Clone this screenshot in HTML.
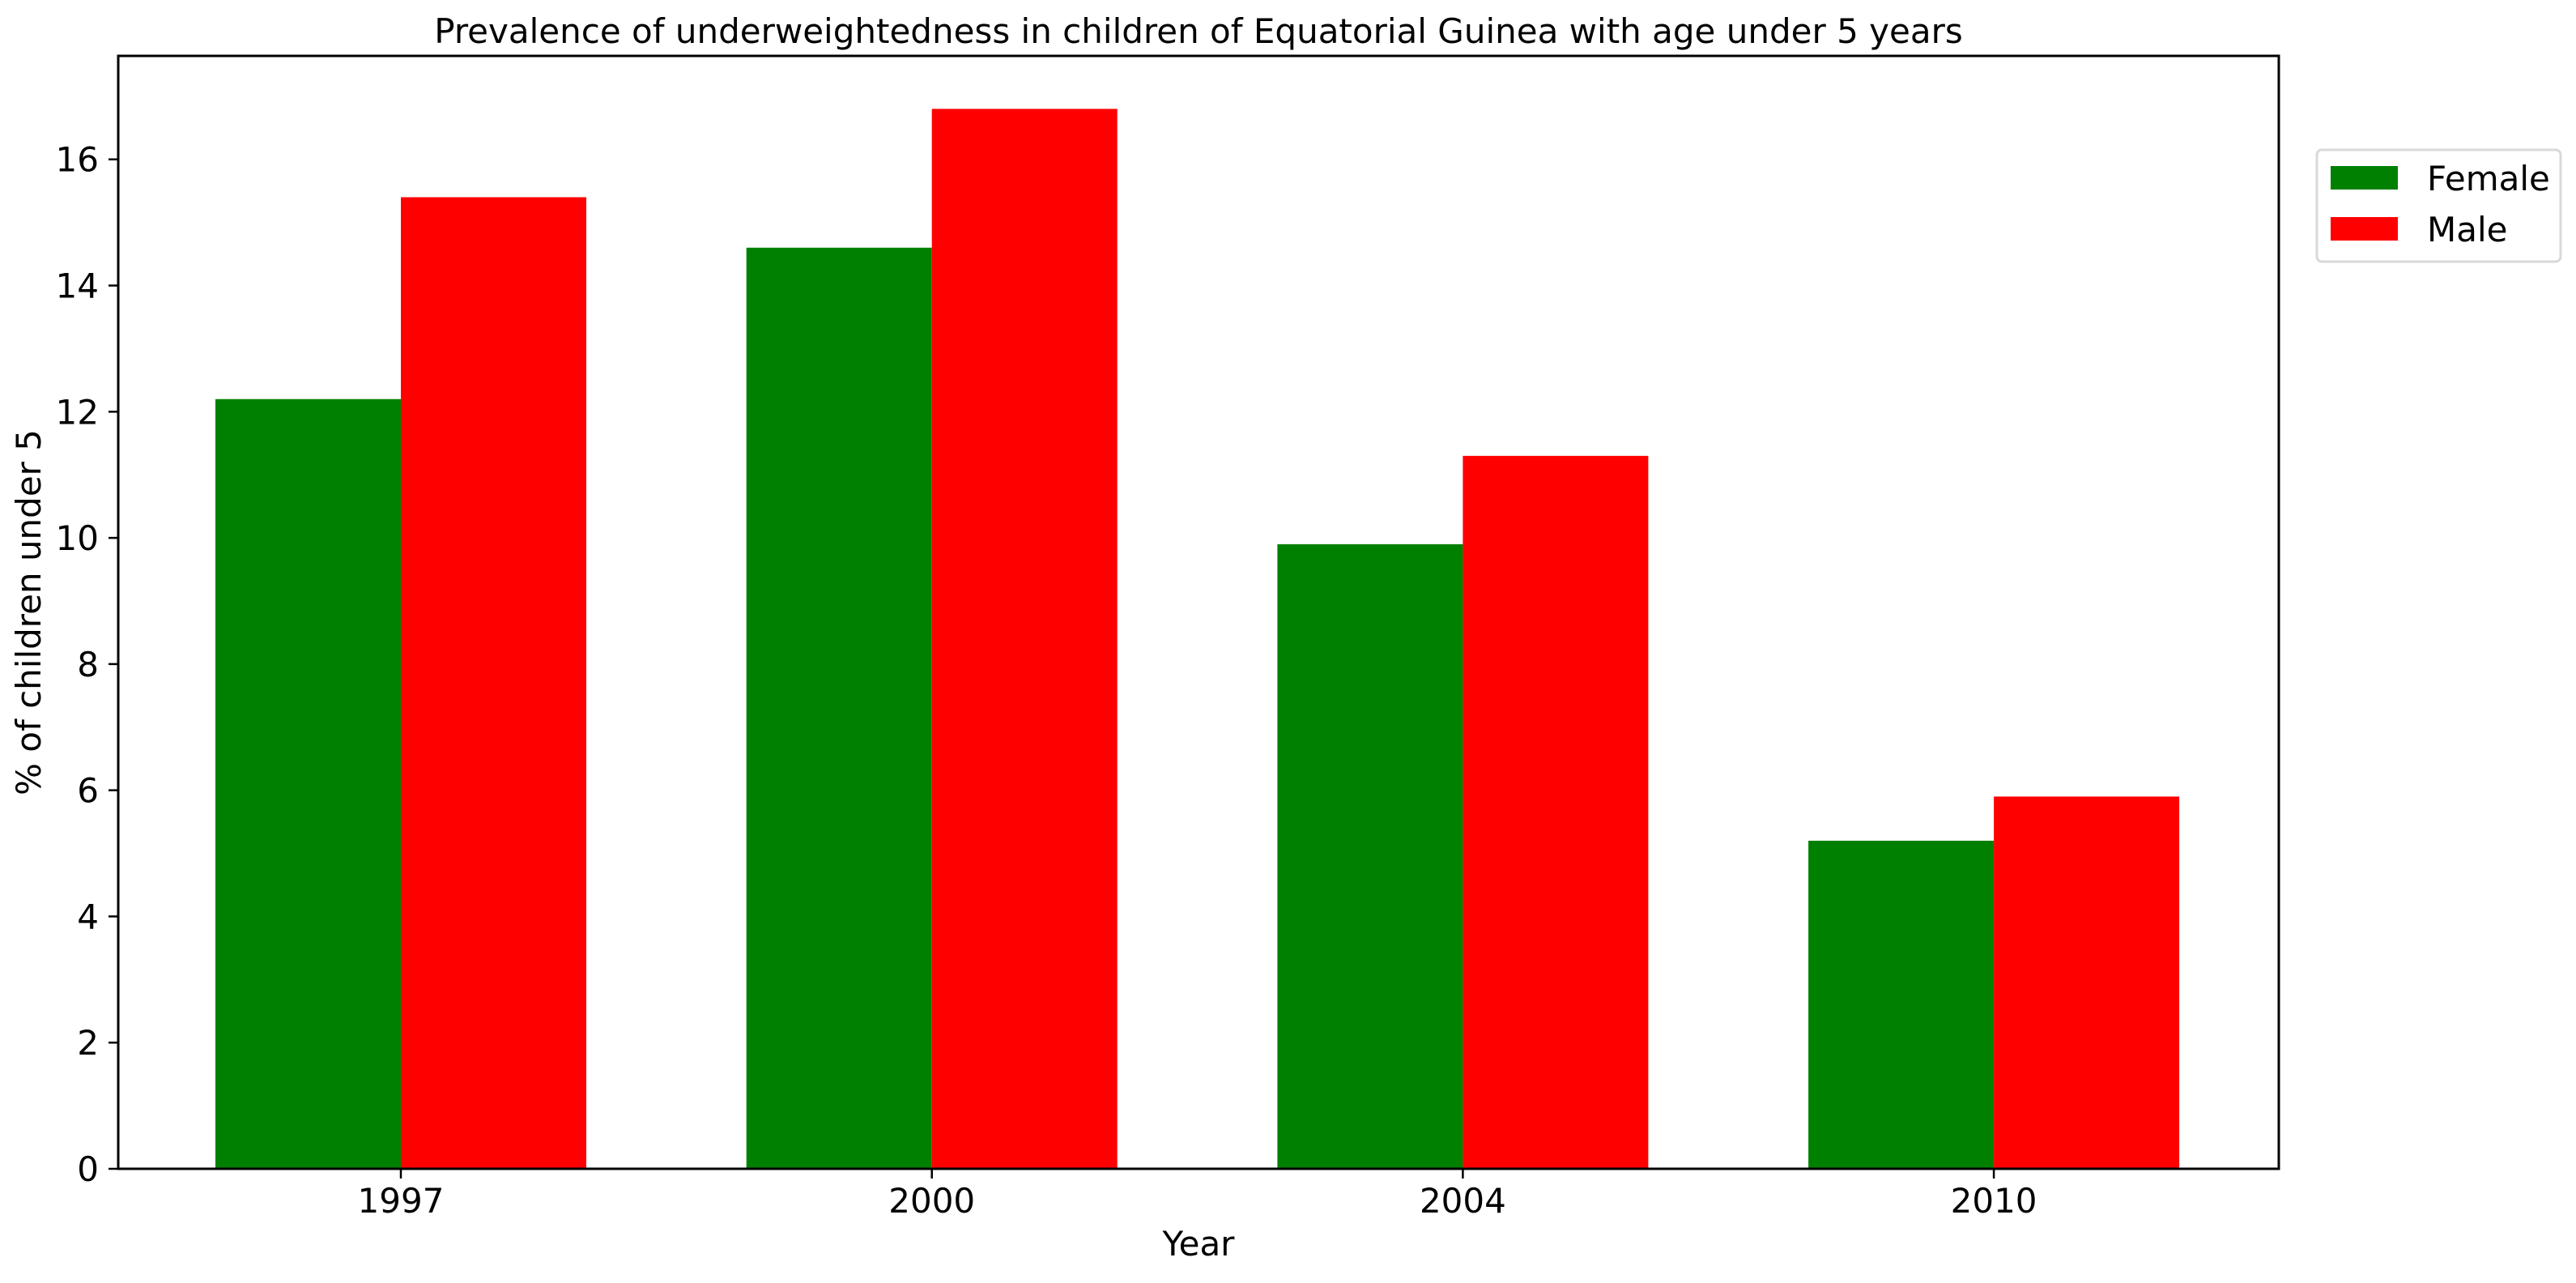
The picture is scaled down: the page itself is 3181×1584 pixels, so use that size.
<!DOCTYPE html>
<html><head><meta charset="utf-8"><style>
html,body{margin:0;padding:0;background:#fff;}
svg text{font-family:"DejaVu Sans","Liberation Sans",sans-serif;fill:#000;}
</style></head><body>
<svg id="chart" width="3181" height="1579" viewBox="0 0 3181 1579" xmlns="http://www.w3.org/2000/svg">
<rect width="3181" height="1579" fill="#fff"/>
<text x="1480" y="53" font-size="42" text-anchor="middle">Prevalence of underweightedness in children of Equatorial Guinea with age under 5 years</text>
<g id="bars"></g>
<g id="yticks"></g>
<g id="xticks"></g>
<rect x="146" y="69" width="2668" height="1374" fill="none" stroke="#000" stroke-width="3"/>
<text x="1480" y="1550" font-size="42" text-anchor="middle">Year</text>
<text x="0" y="0" font-size="42" text-anchor="middle" transform="translate(50,756) rotate(-90)">% of children under 5</text>
<g>
<rect x="2861" y="185" width="301" height="138" rx="6" fill="#fff" stroke="#d9d9d9" stroke-width="3"/>
<rect x="2878" y="205" width="83" height="29" fill="#008000"/>
<text x="2997" y="235" font-size="42">Female</text>
<rect x="2878" y="268" width="83" height="29" fill="#ff0000"/>
<text x="2997" y="298" font-size="42">Male</text>
</g>
</svg>
<script>
const categories = ["1997","2000","2004","2010"];
const femaleValues = [12.2, 14.6, 9.9, 5.2];
const maleValues = [15.4, 16.8, 11.3, 5.9];
const yTicks = [0,2,4,6,8,10,12,14,16];

const NS = "http://www.w3.org/2000/svg";
const plotLeft = 146, plotRight = 2814, plotTop = 69, plotBottom = 1443;
const yMax = Math.max(...femaleValues, ...maleValues) * 1.05;
function yScale(v){ return plotBottom - v / yMax * (plotBottom - plotTop); }
const firstCenter = 495, step = 655.7, barW = 229;
function xScale(i){ return firstCenter + i * step; }

function mk(tag, attrs){ const e = document.createElementNS(NS, tag); for (const k in attrs) e.setAttribute(k, attrs[k]); return e; }

const bars = document.getElementById('bars');
categories.forEach((c, i) => {
  const cx = xScale(i);
  const f = mk('rect', {x: cx - barW, y: yScale(femaleValues[i]), width: barW, height: plotBottom - yScale(femaleValues[i]), fill: '#008000'});
  
  
  bars.appendChild(f);
  const m = mk('rect', {x: cx, y: yScale(maleValues[i]), width: barW, height: plotBottom - yScale(maleValues[i]), fill: '#ff0000'});
  
  
  bars.appendChild(m);
});

const yt = document.getElementById('yticks');
yTicks.forEach(v => {
  const y = yScale(v);
  yt.appendChild(mk('line', {x1: plotLeft - 12, x2: plotLeft, y1: y, y2: y, stroke: '#000', 'stroke-width': 2.5}));
  const t = mk('text', {x: plotLeft - 24, y: y + 15, 'font-size': 42, 'text-anchor': 'end'});
  t.textContent = v;
  
  
  yt.appendChild(t);
});

const xt = document.getElementById('xticks');
categories.forEach((c, i) => {
  const x = xScale(i);
  xt.appendChild(mk('line', {x1: x, x2: x, y1: plotBottom, y2: plotBottom + 12, stroke: '#000', 'stroke-width': 2.5}));
  const t = mk('text', {x: x, y: 1497, 'font-size': 42, 'text-anchor': 'middle'});
  t.textContent = c;
  
  
  xt.appendChild(t);
});
</script>
</body></html>
